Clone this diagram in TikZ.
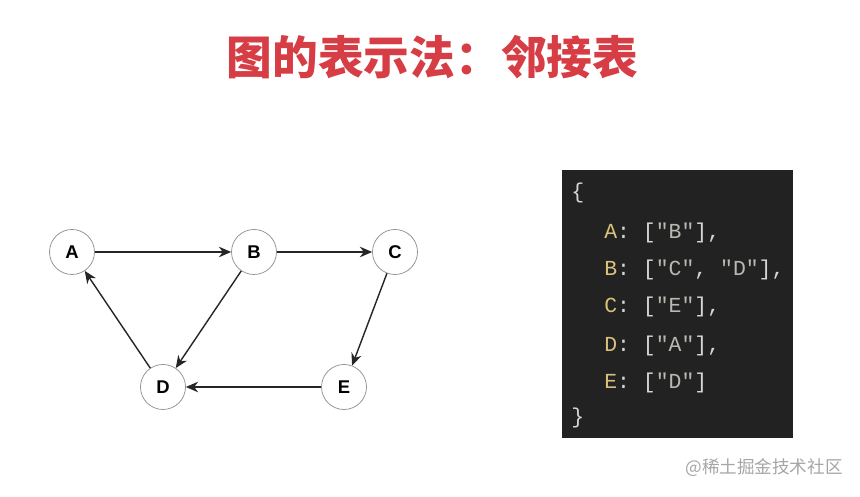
\documentclass[tikz,border=0pt]{standalone}
\usepackage{fontspec}
\setmainfont{Liberation Sans}
\setmonofont{Liberation Mono}
\newfontfamily\cjk{Noto Sans CJK SC}
\usetikzlibrary{arrows.meta}
\definecolor{titlered}{HTML}{D63D44}
\definecolor{codebg}{HTML}{222222}
\definecolor{keyyellow}{HTML}{D8C27C}
\definecolor{strgray}{HTML}{B9B9B2}
\definecolor{punct}{HTML}{D6D6D6}
\newcommand{\keyc}[1]{\textcolor{keyyellow}{#1}}
\newcommand{\strc}[1]{\textcolor{strgray}{″#1″}}

\begin{document}
\begin{tikzpicture}
        \tikzstyle{every node} = [inner sep=0pt]
        \tikzstyle{vertex} = [circle, draw=black!45, fill=white, minimum size=0.9cm, font=\bfseries\fontsize{10.5}{12}\selectfont]
        \tikzstyle{codeline} = [anchor=base west, text=punct, font=\ttfamily\fontsize{12.2}{14}\selectfont]
        \useasboundingbox[fill=white] (0,0) rectangle (17.2,9.94);
        % title
        \node[text=titlered, font=\cjk\bfseries\fontsize{26}{30}\selectfont] (title) at (8.65,8.80) {图的表示法：邻接表};
        % graph
        \node[vertex] (A) at (1.44,4.90) {A};
        \node[vertex] (B) at (5.08,4.90) {B};
        \node[vertex] (C) at (7.90,4.90) {C};
        \node[vertex] (D) at (3.26,2.20) {D};
        \node[vertex] (E) at (6.88,2.20) {E};
        \foreach \from/\to in {A/B, B/C, B/D, C/E, E/D, D/A}
            \draw[-{Stealth[length=7pt,width=6pt]}, black!85, thick] (\from) -- (\to);
        % adjacency list
        \fill[codebg] (11.24,1.18) rectangle (15.86,6.54);
        \node[codeline] (open) at (11.42,5.97) {\{};
        \node[codeline] (la) at (12.08,5.16) {\keyc{A}: [\strc{B}],};
        \node[codeline] (lb) at (12.08,4.42) {\keyc{B}: [\strc{C}, \strc{D}],};
        \node[codeline] (lc) at (12.08,3.68) {\keyc{C}: [\strc{E}],};
        \node[codeline] (ld) at (12.08,2.90) {\keyc{D}: [\strc{A}],};
        \node[codeline] (le) at (12.08,2.16) {\keyc{E}: [\strc{D}]};
        \node[codeline] (close) at (11.42,1.46) {\}};
        % watermark
        \node[text=black!35, font=\cjk\fontsize{10}{12}\selectfont] (mark) at (15.28,0.58) {@稀土掘金技术社区};
\end{tikzpicture}
\end{document}
